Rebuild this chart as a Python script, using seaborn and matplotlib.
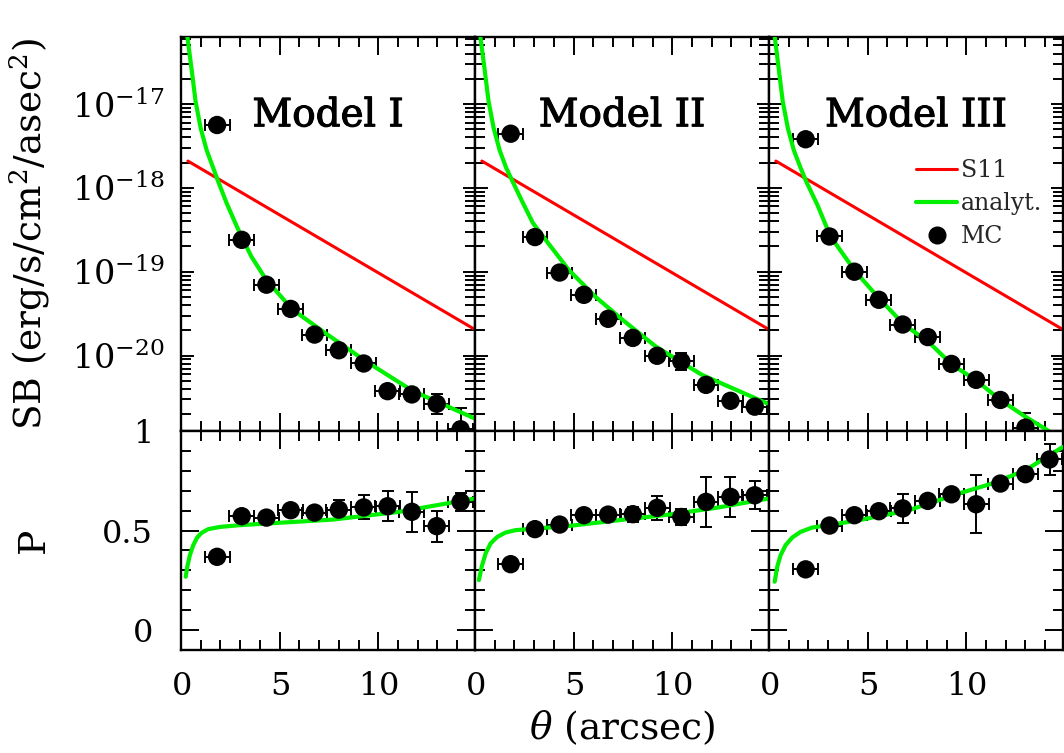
import numpy as np
import matplotlib
matplotlib.use('Agg')
import matplotlib.pyplot as plt
import matplotlib.ticker as mticker
import matplotlib.patheffects as pe
from matplotlib.lines import Line2D
import seaborn as sns

model_names = ['Model I', 'Model II', 'Model III']

# MC points: theta (arcsec), log10 SB, errors in dex, polarisation P
mc_theta = [
    [1.83, 3.08, 4.33, 5.56, 6.77, 8.00, 9.26, 10.47, 11.70, 12.96, 14.17],
    [1.81, 3.04, 4.29, 5.52, 6.75, 8.00, 9.23, 10.46, 11.71, 12.95, 14.18],
    [1.86, 3.07, 4.33, 5.57, 6.78, 8.05, 9.25, 10.50, 11.73, 13.00, 14.22],
]
mc_logsb = [
    [-17.25, -18.62, -19.155, -19.444, -19.75, -19.937, -20.095, -20.425, -20.464, -20.575, -20.88],
    [-17.354, -18.587, -19.01, -19.276, -19.562, -19.79, -20.003, -20.07, -20.35, -20.54, -20.61],
    [-17.42, -18.58, -19.0, -19.335, -19.63, -19.78, -20.10, -20.29, -20.53, -20.86, np.nan],
]
mc_sb_err = [
    [0.02, 0.02, 0.02, 0.02, 0.02, 0.02, 0.03, 0.02, 0.03, 0.12, 0.26],
    [0.02, 0.02, 0.02, 0.02, 0.02, 0.02, 0.02, 0.10, 0.02, 0.02, 0.02],
    [0.02, 0.02, 0.02, 0.02, 0.02, 0.02, 0.02, 0.02, 0.03, 0.17, 0.02],
]
mc_p = [
    [0.368, 0.572, 0.565, 0.602, 0.590, 0.605, 0.616, 0.622, 0.594, 0.522, 0.644],
    [0.331, 0.507, 0.530, 0.577, 0.580, 0.582, 0.614, 0.568, 0.644, 0.669, 0.677],
    [0.305, 0.525, 0.577, 0.597, 0.611, 0.649, 0.682, 0.632, 0.736, 0.783, 0.857],
]
mc_p_err = [
    [0.01, 0.015, 0.03, 0.015, 0.015, 0.049, 0.06, 0.075, 0.10, 0.078, 0.045],
    [0.01, 0.015, 0.02, 0.015, 0.015, 0.038, 0.059, 0.04, 0.124, 0.10, 0.07],
    [0.01, 0.015, 0.02, 0.015, 0.072, 0.015, 0.015, 0.145, 0.015, 0.015, 0.076],
]
theta_halfbin = 0.63

# analytic curves (green)
an_sb_theta = [
    [0.32, 0.54, 0.74, 1.0, 1.30, 1.63, 1.88, 2.31, 2.81, 3.15, 3.57, 4.33, 5.67, 7.36, 9.38, 11.73, 14.88],
    [0.27, 0.49, 0.69, 0.95, 1.25, 1.58, 1.92, 2.43, 2.94, 3.58, 4.76, 6.11, 7.46, 9.15, 11.5, 14.8],
    [0.29, 0.50, 0.70, 0.96, 1.26, 1.60, 1.90, 2.45, 3.12, 4.39, 5.57, 6.84, 8.1, 9.28, 10.47, 11.73, 13.0, 14.18],
]
an_sb_log = [
    [-16.19, -16.59, -16.97, -17.29, -17.55, -17.76, -17.92, -18.18, -18.45, -18.62, -18.82, -19.10, -19.455,
     -19.74, -20.07, -20.42, -20.75],
    [-16.19, -16.59, -16.97, -17.29, -17.55, -17.76, -17.93, -18.18, -18.42, -18.62, -18.98, -19.30, -19.57,
     -19.89, -20.23, -20.57],
    [-16.19, -16.59, -16.97, -17.29, -17.55, -17.76, -17.93, -18.20, -18.58, -19.0, -19.315, -19.63, -19.84,
     -20.11, -20.29, -20.53, -20.73, -20.9],
]
an_p_theta = [
    [0.24, 0.32, 0.45, 0.62, 0.82, 1.04, 1.38, 1.97, 2.98, 4.33, 7.7, 11.06, 14.9],
    [0.20, 0.34, 0.54, 0.79, 1.13, 1.55, 2.06, 3.07, 4.76, 7.29, 9.82, 12.35, 14.9],
    [0.29, 0.42, 0.59, 0.84, 1.18, 1.60, 2.19, 3.04, 4.56, 7.09, 9.62, 11.31, 13.0, 14.9],
]
an_p = [
    [0.268, 0.318, 0.376, 0.426, 0.465, 0.488, 0.507, 0.518, 0.527, 0.535, 0.555, 0.594, 0.661],
    [0.251, 0.318, 0.385, 0.435, 0.468, 0.490, 0.502, 0.510, 0.523, 0.552, 0.580, 0.616, 0.661],
    [0.243, 0.318, 0.376, 0.426, 0.465, 0.493, 0.515, 0.527, 0.552, 0.602, 0.686, 0.736, 0.803, 0.92],
]

# S11 line
s11_theta = [0.35, 14.9]
s11_logsb = [-17.68, -19.69]

sb_ticks = [1e-20, 1e-19, 1e-18, 1e-17]
p_ticks = [0, 0.5, 1]
p_ticklabels = ['0', '0.5', '1']
x_ticks = [0, 5, 10]

RED = '#ff0000'
GREEN = '#00f000'

sns.set_theme(style='ticks')
plt.rcParams['font.family'] = ['DejaVu Serif']
plt.rcParams['mathtext.fontset'] = 'dejavuserif'
plt.rcParams['axes.formatter.use_mathtext'] = True

fig, axes = plt.subplots(2, 3, figsize=(10.64, 7.53), dpi=100, sharex=True, sharey='row',
                         gridspec_kw=dict(height_ratios=[394, 219], hspace=0, wspace=0,
                                          left=0.1701, right=0.999, top=0.9509, bottom=0.1368))

for i in range(3):
    top = axes[0, i]
    bot = axes[1, i]
    th = np.array(mc_theta[i])
    lsb = np.array(mc_logsb[i])
    esb = np.array(mc_sb_err[i])
    sb = 10 ** lsb
    sb_lo = sb - 10 ** (lsb - esb)
    sb_hi = 10 ** (lsb + esb) - sb

    # top: surface brightness
    sns.lineplot(x=s11_theta, y=10 ** np.array(s11_logsb), ax=top, color=RED, lw=2.2,
                 sort=False, estimator=None)
    sns.lineplot(x=an_sb_theta[i], y=10 ** np.array(an_sb_log[i]), ax=top, color=GREEN, lw=3,
                 sort=False, estimator=None, zorder=4)
    top.errorbar(th, sb, xerr=theta_halfbin, yerr=[sb_lo, sb_hi], fmt='none', ecolor='black',
                 elinewidth=1.4, capsize=4, capthick=1.4, zorder=3)
    sns.scatterplot(x=th, y=sb, ax=top, color='black', s=175, edgecolor='none', zorder=5)

    # bottom: polarisation
    sns.lineplot(x=an_p_theta[i], y=an_p[i], ax=bot, color=GREEN, lw=3,
                 sort=False, estimator=None, zorder=4)
    bot.errorbar(th, mc_p[i], xerr=theta_halfbin, yerr=mc_p_err[i], fmt='none', ecolor='black',
                 elinewidth=1.4, capsize=4, capthick=1.4, zorder=3)
    sns.scatterplot(x=th, y=mc_p[i], ax=bot, color='black', s=175, edgecolor='none', zorder=5)

    top.text(0.5, 0.80, model_names[i], transform=top.transAxes, ha='center', va='center',
             fontsize=28, color='black',
             path_effects=[pe.withStroke(linewidth=0.8, foreground='black')])

    for ax in (top, bot):
        ax.set_xlabel('')
        ax.set_ylabel('')
        ax.tick_params(which='both', direction='in', top=True, right=True, color='black',
                       width=1.4, labelsize=23, labelcolor='black')
        ax.tick_params(which='major', length=13)
        ax.tick_params(which='minor', length=7)
        for sp in ax.spines.values():
            sp.set_color('black')
            sp.set_linewidth(1.7)
    top.tick_params(axis='x', labelbottom=False)
    top.tick_params(axis='y', which='major', length=9, pad=12, labelsize=24)
    bot.tick_params(axis='x', pad=15)
    bot.tick_params(axis='y', pad=20)
    if i > 0:
        top.tick_params(axis='y', labelleft=False)
        bot.tick_params(axis='y', labelleft=False)

top0 = axes[0, 0]
top0.set_yscale('log')
top0.set_ylim(10 ** -20.9, 10 ** -16.2)
top0.yaxis.set_major_locator(mticker.FixedLocator(sb_ticks))
top0.yaxis.set_minor_locator(mticker.LogLocator(base=10, subs=np.arange(2, 10)))
top0.yaxis.set_major_formatter(mticker.LogFormatterMathtext())
top0.yaxis.set_minor_formatter(mticker.NullFormatter())

bot0 = axes[1, 0]
bot0.set_ylim(-0.1, 1.0)
bot0.set_yticks(p_ticks, labels=p_ticklabels)
bot0.yaxis.set_minor_locator(mticker.MultipleLocator(0.1))

bot0.set_xlim(0, 14.9)
bot0.set_xticks(x_ticks)
bot0.xaxis.set_minor_locator(mticker.MultipleLocator(1))

top0.set_ylabel('SB (erg/s/cm$^2$/asec$^2$)', fontsize=27, color='black')
top0.yaxis.set_label_coords(-0.439, 0.5)
bot0.set_ylabel('P', fontsize=27, color='black')
bot0.yaxis.set_label_coords(-0.439, 0.5)
axes[1, 1].set_xlabel(r'$\theta$ (arcsec)', fontsize=27, color='black')
axes[1, 1].xaxis.set_label_coords(0.5, -0.265)

handles = [Line2D([], [], color=RED, lw=2.2),
           Line2D([], [], color=GREEN, lw=3),
           Line2D([], [], ls='', marker='o', ms=12, color='black')]
axes[0, 2].legend(handles, ['S11', 'analyt.', 'MC'], loc='upper left', bbox_to_anchor=(0.50, 0.69),
                  frameon=False, fontsize=17, handlelength=1.75, handletextpad=0.15,
                  labelspacing=0.42, borderpad=0, borderaxespad=0)

fig.savefig('out.png', dpi=100)
